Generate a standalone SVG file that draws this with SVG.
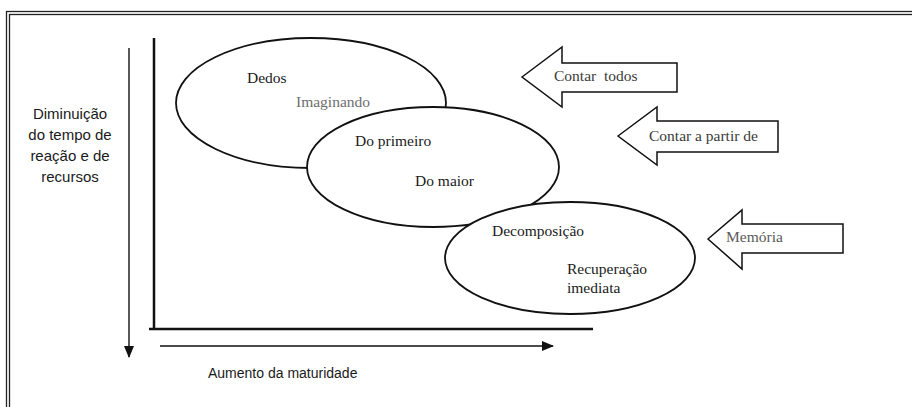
<svg xmlns="http://www.w3.org/2000/svg" width="912" height="407" viewBox="0 0 912 407">
<style>
.bord{fill:none;stroke:#222;stroke-width:1.3}
.ell{fill:#fff;stroke:#111;stroke-width:1.8}
.axis{stroke:#111;stroke-width:2.5;fill:none}
.thin{stroke:#111;stroke-width:1.4;fill:none}
.blk{fill:#fff;stroke:#111;stroke-width:1.5;stroke-linejoin:miter}
</style>
<defs>
<marker id="ah" markerWidth="12" markerHeight="10" refX="11" refY="5" orient="auto" markerUnits="userSpaceOnUse">
<path d="M0,0 L12,5 L0,10 Z" fill="#111"/>
</marker>
</defs>
<rect width="912" height="407" fill="#fff"/>
<g id="border">
<rect class="bord" x="6.5" y="11.5" width="1000" height="500"/>
<rect class="bord" x="9.5" y="14.5" width="1000" height="500"/>
</g>
<g id="axes">
<line class="axis" x1="154" y1="38" x2="154" y2="329"/>
<line class="axis" x1="149" y1="329" x2="593" y2="329"/>
</g>
<g id="connectors">
<line class="thin" x1="129" y1="48" x2="129" y2="357" marker-end="url(#ah)"/>
<line class="thin" x1="160" y1="346" x2="553" y2="346" marker-end="url(#ah)"/>
</g>
<g id="label-y" font-family="'Liberation Sans', Arial, sans-serif" font-size="15" fill="#1a1a1a">
<text x="70" y="119" text-anchor="middle">Diminuição</text>
<text x="70" y="140" text-anchor="middle">do tempo de</text>
<text x="70" y="161" text-anchor="middle">reação e de</text>
<text x="70" y="182" text-anchor="middle">recursos</text>
</g>
<g id="label-x" font-family="'Liberation Sans', Arial, sans-serif" font-size="14" fill="#1a1a1a">
<text x="208" y="378">Aumento da maturidade</text>
</g>
<g id="ellipse1" font-family="'Liberation Serif', 'Times New Roman', serif" font-size="15.5" fill="#1a1a1a">
<ellipse class="ell" cx="311" cy="103" rx="135" ry="65"/>
<text x="247" y="83">Dedos</text>
<text x="296" y="107" fill="#6e6e6e">Imaginando</text>
</g>
<g id="ellipse2" font-family="'Liberation Serif', 'Times New Roman', serif" font-size="15.5" fill="#1a1a1a">
<ellipse class="ell" cx="433" cy="167" rx="126" ry="60"/>
<text x="355" y="146">Do primeiro</text>
<text x="415" y="186">Do maior</text>
</g>
<g id="ellipse3" font-family="'Liberation Serif', 'Times New Roman', serif" font-size="15.5" fill="#1a1a1a">
<ellipse class="ell" cx="570" cy="258" rx="125" ry="56"/>
<text x="492" y="236">Decomposição</text>
<text x="567" y="274">Recuperação</text>
<text x="567" y="293">imediata</text>
</g>
<g id="arrow-contar-todos" font-family="'Liberation Serif', 'Times New Roman', serif" font-size="15.5" fill="#3a3a3a">
<path class="blk" d="M522,77 L562,47 L562,63 L677,63 L677,92 L562,92 L562,107 Z"/>
<text x="554" y="81" xml:space="preserve">Contar  todos</text>
</g>
<g id="arrow-contar-partir" font-family="'Liberation Serif', 'Times New Roman', serif" font-size="15.5" fill="#3a3a3a">
<path class="blk" d="M618,136 L657,107 L657,121 L778,121 L778,152 L657,152 L657,165 Z"/>
<text x="649" y="141">Contar a partir de</text>
</g>
<g id="arrow-memoria" font-family="'Liberation Serif', 'Times New Roman', serif" font-size="15.5" fill="#5a5a5a">
<path class="blk" d="M708,239 L742,210 L742,224 L843,224 L843,253 L742,253 L742,269 Z"/>
<text x="726" y="242">Memória</text>
</g>
</svg>
